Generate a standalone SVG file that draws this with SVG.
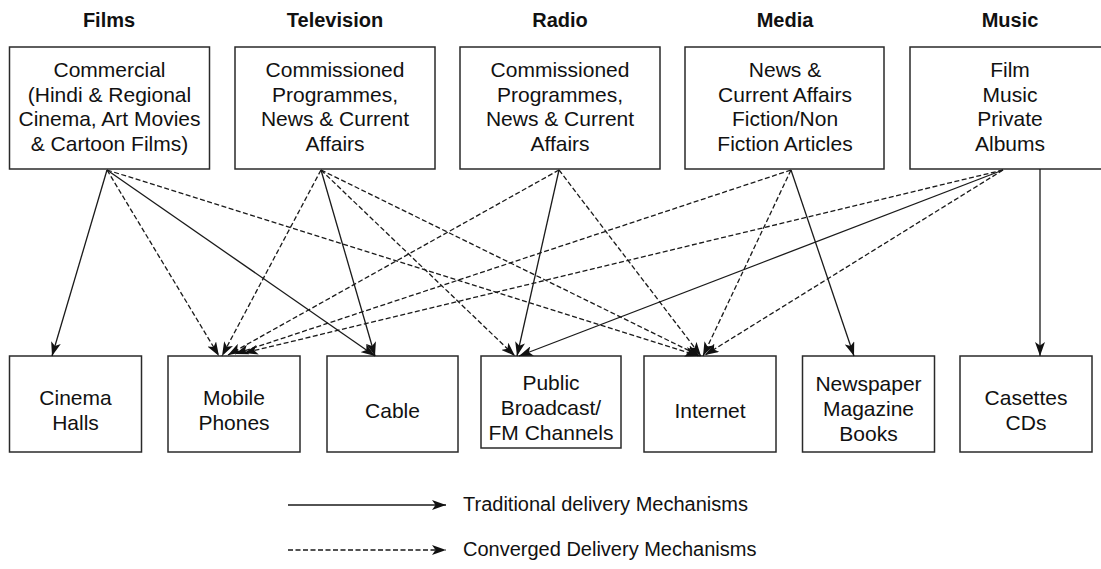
<svg xmlns="http://www.w3.org/2000/svg" width="1101" height="569" viewBox="0 0 1101 569">
  <style>
    .box { fill: #fff; stroke: #2a2a2a; stroke-width: 1.5; }
    .head { font-family: "Liberation Sans", Arial, sans-serif; font-size: 20px; font-weight: bold; fill: #111; text-anchor: middle; }
    .txt { font-family: "Liberation Sans", Arial, sans-serif; font-size: 21px; fill: #111; text-anchor: middle; }
    .leg { font-family: "Liberation Sans", Arial, sans-serif; font-size: 20px; fill: #111; }
    .solid { fill: none; stroke: #1a1a1a; stroke-width: 1.3; marker-end: url(#ah); }
    .dash { fill: none; stroke: #1a1a1a; stroke-width: 1.3; stroke-dasharray: 5 2.5; marker-end: url(#ah); }
  </style>
  <defs>
    <marker id="ah" markerUnits="userSpaceOnUse" markerWidth="14" markerHeight="10" viewBox="0 0 14 10" refX="14" refY="5" orient="auto">
      <path d="M0,0 L14,5 L0,10 L3.5,5 z" fill="#111"/>
    </marker>
  </defs>
  <rect width="1101" height="569" fill="#fff"/>

  <!-- category headings -->
  <g id="headings">
    <text class="head" x="109" y="27">Films</text>
    <text class="head" x="335" y="27">Television</text>
    <text class="head" x="560" y="27">Radio</text>
    <text class="head" x="785" y="27">Media</text>
    <text class="head" x="1010" y="27">Music</text>
  </g>

  <!-- content sources -->
  <g id="films">
    <rect class="box" x="9.5" y="47" width="200" height="122"/>
    <text class="txt" x="109.5" y="77">Commercial</text>
    <text class="txt" x="109.5" y="101.5">(Hindi &amp; Regional</text>
    <text class="txt" x="109.5" y="126">Cinema, Art Movies</text>
    <text class="txt" x="109.5" y="150.5">&amp; Cartoon Films)</text>
  </g>
  <g id="television">
    <rect class="box" x="235" y="47" width="200" height="122"/>
    <text class="txt" x="335" y="77">Commissioned</text>
    <text class="txt" x="335" y="101.5">Programmes,</text>
    <text class="txt" x="335" y="126">News &amp; Current</text>
    <text class="txt" x="335" y="150.5">Affairs</text>
  </g>
  <g id="radio">
    <rect class="box" x="460" y="47" width="200" height="122"/>
    <text class="txt" x="560" y="77">Commissioned</text>
    <text class="txt" x="560" y="101.5">Programmes,</text>
    <text class="txt" x="560" y="126">News &amp; Current</text>
    <text class="txt" x="560" y="150.5">Affairs</text>
  </g>
  <g id="media">
    <rect class="box" x="685" y="47" width="199" height="122"/>
    <text class="txt" x="785" y="77">News &amp;</text>
    <text class="txt" x="785" y="101.5">Current Affairs</text>
    <text class="txt" x="785" y="126">Fiction/Non</text>
    <text class="txt" x="785" y="150.5">Fiction Articles</text>
  </g>
  <g id="music">
    <path class="box" d="M1102,47 H910 V169 H1102"/>
    <text class="txt" x="1010" y="77">Film</text>
    <text class="txt" x="1010" y="101.5">Music</text>
    <text class="txt" x="1010" y="126">Private</text>
    <text class="txt" x="1010" y="150.5">Albums</text>
  </g>

  <!-- delivery channels -->
  <g id="cinema-halls">
    <rect class="box" x="9.5" y="356" width="132" height="96"/>
    <text class="txt" x="75.5" y="405">Cinema</text>
    <text class="txt" x="75.5" y="430">Halls</text>
  </g>
  <g id="mobile-phones">
    <rect class="box" x="168" y="356" width="132" height="96"/>
    <text class="txt" x="234" y="405">Mobile</text>
    <text class="txt" x="234" y="430">Phones</text>
  </g>
  <g id="cable">
    <rect class="box" x="327" y="356" width="131" height="96"/>
    <text class="txt" x="392.5" y="418">Cable</text>
  </g>
  <g id="public-broadcast">
    <rect class="box" x="481" y="356" width="140" height="92"/>
    <text class="txt" x="551" y="390">Public</text>
    <text class="txt" x="551" y="415">Broadcast/</text>
    <text class="txt" x="551" y="440">FM Channels</text>
  </g>
  <g id="internet">
    <rect class="box" x="644" y="356" width="132" height="96"/>
    <text class="txt" x="710" y="418">Internet</text>
  </g>
  <g id="newspaper">
    <rect class="box" x="802.5" y="356" width="132" height="96"/>
    <text class="txt" x="868.5" y="391">Newspaper</text>
    <text class="txt" x="868.5" y="416">Magazine</text>
    <text class="txt" x="868.5" y="441">Books</text>
  </g>
  <g id="casettes">
    <rect class="box" x="960" y="356" width="132" height="96"/>
    <text class="txt" x="1026" y="405">Casettes</text>
    <text class="txt" x="1026" y="430">CDs</text>
  </g>

  <!-- delivery connectors -->
  <g id="connectors">
    <!-- Films -->
    <line class="solid" x1="107" y1="170" x2="52" y2="356"/>
    <line class="dash" x1="107" y1="170" x2="219" y2="356"/>
    <line class="solid" x1="107" y1="170" x2="375" y2="356"/>
    <line class="dash" x1="107" y1="170" x2="699" y2="356"/>
    <!-- Television -->
    <line class="dash" x1="321" y1="170" x2="222" y2="356"/>
    <line class="solid" x1="321" y1="170" x2="375" y2="356"/>
    <line class="dash" x1="321" y1="170" x2="515" y2="356"/>
    <line class="dash" x1="321" y1="170" x2="700" y2="356"/>
    <!-- Radio -->
    <line class="dash" x1="559" y1="170" x2="228" y2="355"/>
    <line class="solid" x1="559" y1="170" x2="517" y2="356"/>
    <line class="dash" x1="559" y1="170" x2="701" y2="356"/>
    <!-- Media -->
    <line class="dash" x1="791" y1="170" x2="235" y2="354"/>
    <line class="dash" x1="791" y1="170" x2="703" y2="356"/>
    <line class="solid" x1="791" y1="170" x2="854" y2="356"/>
    <!-- Music -->
    <line class="dash" x1="1003" y1="170" x2="244" y2="353"/>
    <line class="solid" x1="1003" y1="170" x2="519" y2="356"/>
    <line class="dash" x1="1003" y1="170" x2="705" y2="355"/>
    <line class="solid" x1="1040" y1="169" x2="1040" y2="356"/>
  </g>

  <!-- legend -->
  <g id="legend">
    <line class="solid" x1="288" y1="505" x2="446" y2="505"/>
    <text class="leg" x="463" y="511">Traditional delivery Mechanisms</text>
    <line class="dash" x1="288" y1="550" x2="446" y2="550"/>
    <text class="leg" x="463" y="556">Converged Delivery Mechanisms</text>
  </g>
</svg>
